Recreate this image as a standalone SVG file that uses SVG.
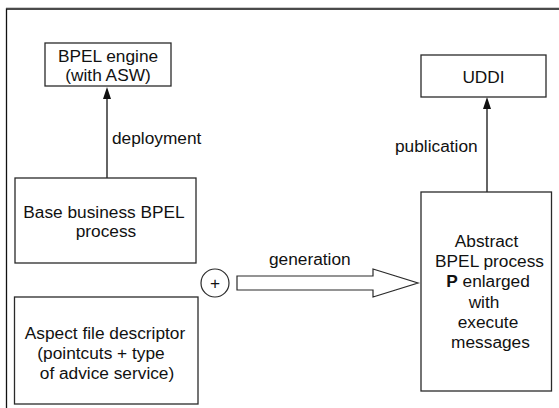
<svg xmlns="http://www.w3.org/2000/svg" width="559" height="408" viewBox="0 0 559 408">
<style>
.box{fill:#fff;stroke:#2a2a2a;stroke-width:1.3}
.t{font-family:"Liberation Sans",Arial,sans-serif;font-size:17.3px;fill:#111}
.c{text-anchor:middle}
.ln{stroke:#111;stroke-width:1.3;fill:none}
.head{fill:#111;stroke:none}
</style>
<rect width="559" height="408" fill="#fff"/>
<g id="frame">
<line x1="6" y1="7.6" x2="559" y2="7.6" stroke="#c8c8c8" stroke-width="1"/>
<path d="M6.5,408 V9 H559" class="ln" stroke="#222"/>
</g>
<g id="connectors">
<line x1="107" y1="178" x2="107" y2="98" class="ln"/>
<polygon points="107,87 103,99 111,99" class="head"/>
<text x="112" y="144" class="t">deployment</text>
<line x1="487" y1="192" x2="487" y2="108" class="ln"/>
<polygon points="487,97 483,109 491,109" class="head"/>
<text x="395" y="152" class="t">publication</text>
<polygon points="237,276 373,276 373,269 418,283 373,297 373,290 237,290" fill="#fff" stroke="#2a2a2a" stroke-width="1.2"/>
<text x="269" y="265" class="t">generation</text>
</g>
<g id="bpel-engine">
<rect x="45" y="43" width="126" height="43" class="box"/>
<text x="108" y="62" class="t c">BPEL engine</text>
<text x="108" y="80.5" class="t c">(with ASW)</text>
</g>
<g id="uddi">
<rect x="421" y="55" width="125" height="42" class="box"/>
<text x="483.5" y="83" class="t c">UDDI</text>
</g>
<g id="base-process">
<rect x="15" y="178" width="181" height="85" class="box"/>
<text x="104" y="218" class="t c">Base business BPEL</text>
<text x="106" y="237" class="t c">process</text>
</g>
<g id="plus">
<circle cx="215" cy="283" r="14" fill="#fff" stroke="#2a2a2a" stroke-width="1.2"/>
<text x="215" y="289" class="t c" font-size="16">+</text>
</g>
<g id="aspect">
<rect x="14.5" y="297" width="183.5" height="107" class="box"/>
<text x="105" y="339" class="t c">Aspect file descriptor</text>
<text x="101" y="359" class="t c">(pointcuts + type</text>
<text x="107" y="379" class="t c">of advice service)</text>
</g>
<g id="abstract">
<rect x="421" y="192" width="130.5" height="199" class="box"/>
<text x="486.5" y="247" class="t c">Abstract</text>
<text x="489.5" y="267" class="t c">BPEL process</text>
<text x="488" y="287" class="t c"><tspan font-weight="bold">P</tspan> enlarged</text>
<text x="484" y="308" class="t c">with</text>
<text x="488" y="328" class="t c">execute</text>
<text x="490.5" y="348" class="t c">messages</text>
</g>
</svg>
